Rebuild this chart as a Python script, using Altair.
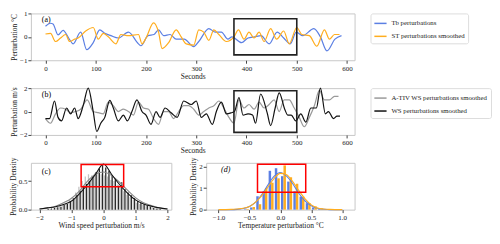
import altair as alt
import pandas as pd

FONT = "Liberation Serif"

# ---- panel (a): temperature perturbations ----
tb_t = [0,10,15,25,35,48,55,70,82,95,108,118,130,145,165,185,190,204,216,225,235,248,260,276,295,305,325,338,350,363,371,390,403,416,429,445,461,474,487,499,512,534,547,560,576,589]
tb_v = [0.45,0.58,0.55,0.08,0.28,-0.12,-0.3,0.2,-0.55,-0.25,0.3,0.15,0.05,-0.05,0.2,-0.3,-0.38,0.05,0.1,0.3,0.05,0.1,-0.1,-0.1,-0.42,-0.2,0.35,0.2,0.2,-0.1,0.0,-0.25,-0.05,0.0,0.05,-0.3,0.2,-0.05,-0.3,0.2,0.05,0.35,0.0,-0.6,-0.1,0.05]
st_t = [0,10,20,30,40,48,58,65,80,95,105,115,125,140,150,165,185,192,200,215,225,232,245,260,270,280,295,305,315,325,335,345,360,375,384,395,405,415,425,435,448,460,474,485,500,510,525,540,555,565,575,585]
st_v = [0.12,0.15,-0.2,-0.05,0.1,-0.2,-0.1,-0.05,0.25,0.4,-0.1,0.15,0.0,-0.3,0.1,0.05,0.1,-0.3,-0.05,0.6,0.2,-0.5,-0.25,0.3,0.0,-0.3,-0.35,0.3,0.2,-0.15,0.3,0.1,-0.2,0.0,0.3,-0.1,0.2,-0.05,0.2,-0.2,0.35,-0.1,0.25,-0.3,0.4,0.1,0.05,-0.4,0.3,-0.1,0.1,0.1]

# ---- panel (b): wind speed perturbations ----
ws_t = [0,8,18,25,32,42,50,58,65,75,85,95,102,110,118,128,135,145,155,163,172,182,192,200,210,220,228,238,250,262,275,290,300,310,320,332,340,350,360,370,376,385,393,403,412,418,428,441,448,457,465,476,482,489,498,508,518,528,539,547,557,563,573,580,586]
ws_v = [-0.6,-0.6,0.9,-0.5,-0.8,0.3,-0.2,0.3,-0.6,0.5,2.0,0.0,-1.7,-1.0,-0.5,0.95,0.3,-0.8,-0.3,-0.8,0.0,1.0,0.0,-0.3,-1.1,0.0,-0.5,0.3,-0.1,-0.5,0.9,0.6,0.9,-0.5,-0.2,-1.1,0.0,0.8,-0.2,-0.1,0.0,1.2,-0.3,-0.2,-0.3,-1.0,1.5,-0.1,-1.2,0.3,1.6,0.2,-0.3,-0.3,-0.8,-0.2,-0.9,0.3,0.3,2.0,-0.2,0.0,-0.6,-0.4,-0.4]
at_t = [0,10,20,30,40,50,60,70,83,95,105,115,125,135,145,155,165,175,185,195,205,215,225,235,245,255,265,275,285,295,305,315,325,335,345,355,365,375,385,395,405,415,425,435,445,455,465,475,485,495,505,515,525,535,545,555,565,575,583]
at_v = [-0.6,-1.0,-0.2,0.3,0.2,-0.1,0.0,0.2,1.0,0.0,-0.1,-0.2,0.8,0.5,0.0,0.2,0.0,-0.3,0.8,0.3,0.2,-0.6,-1.1,0.0,0.0,-0.6,0.0,0.5,0.5,0.2,-0.3,0.0,0.3,0.5,0.9,0.3,-0.5,-1.0,1.0,0.3,0.6,0.2,0.8,0.3,0.6,1.0,0.0,1.0,1.0,0.3,-0.5,-1.3,-0.5,0.5,1.8,1.0,1.0,1.3,1.3]

# ---- panel (c): wind speed histograms ----
c_bins = [round(-1.95 + 0.1 * i, 2) for i in range(40)]
c_ws = [0.0,0.0,0.01,0.02,0.03,0.04,0.05,0.08,0.1,0.14,0.2,0.26,0.33,0.4,0.45,0.5,0.58,0.66,0.72,0.78,0.74,0.68,0.6,0.55,0.42,0.48,0.36,0.3,0.25,0.2,0.15,0.12,0.09,0.07,0.05,0.03,0.02,0.01,0.0,0.0]
c_at = [0.0,0.0,0.0,0.01,0.02,0.04,0.06,0.08,0.12,0.17,0.22,0.3,0.4,0.5,0.58,0.62,0.6,0.64,0.66,0.62,0.6,0.58,0.52,0.5,0.44,0.38,0.32,0.26,0.22,0.17,0.12,0.1,0.08,0.06,0.05,0.04,0.02,0.01,0.0,0.0]
c_fit_x = [-2,-1.75,-1.5,-1.25,-1,-0.75,-0.5,-0.25,0,0.25,0.5,0.75,1,1.25,1.5,1.75,2]
c_fit_ws = [0.01,0.03,0.05,0.09,0.15,0.28,0.44,0.62,0.8,0.62,0.44,0.29,0.17,0.1,0.06,0.03,0.01]
c_fit_at = [0.01,0.03,0.06,0.12,0.2,0.33,0.5,0.62,0.66,0.6,0.48,0.34,0.21,0.12,0.07,0.03,0.01]

# ---- panel (d): temperature histograms ----
d_bins = [-0.55,-0.45,-0.35,-0.25,-0.15,-0.05,0.05,0.15,0.25,0.35,0.45,0.55,0.65]
d_tb = [0.02,0.1,0.62,0.85,1.8,1.92,1.55,1.3,0.85,0.6,0.3,0.1,0.03]
d_st = [0.03,0.12,0.25,1.0,1.25,1.45,2.05,1.5,1.2,0.6,0.3,0.15,0.04]
d_fit_x = [-1.0,-0.8,-0.7,-0.6,-0.5,-0.4,-0.3,-0.2,-0.1,0.0,0.1,0.2,0.3,0.4,0.5,0.6,0.7,0.8,1.0]
d_fit_tb = [0.0,0.0,0.01,0.05,0.15,0.35,0.7,1.15,1.55,1.72,1.55,1.2,0.75,0.4,0.18,0.06,0.02,0.0,0.0]
d_fit_st = [0.0,0.01,0.03,0.06,0.15,0.35,0.65,1.05,1.45,1.68,1.62,1.3,0.88,0.5,0.22,0.08,0.03,0.01,0.0]

# ---- highlight boxes ----
box_a = {"x1": [375], "x2": [500], "y1": [-0.77], "y2": [0.77]}
box_b = {"x1": [375], "x2": [500], "y1": [-1.78], "y2": [1.78]}
box_c = {"x1": [-0.7], "x2": [0.63], "y1": [0.4], "y2": [0.79]}
box_d = {"x1": [-0.37], "x2": [0.41], "y1": [0.8], "y2": [2.1]}

BLUE = "#5b7fe3"
ORANGE = "#ffad1f"
W_TOP, H = 325, 47


def axis(count, title, fmt):
    return alt.Axis(tickCount=count, format=fmt, title=title, labelOverlap=False,
                    labelFlush=False, labelBound=False)


def panel_label(txt, dx, dy):
    return alt.Chart(pd.DataFrame({"t": [txt]})).mark_text(
        align="left", baseline="middle", font=FONT, fontSize=8,
        fontStyle="italic" if txt == "(d)" else "normal"
    ).encode(text="t:N", x=alt.value(dx), y=alt.value(dy))


def ts_panel(s1, s2, names, colors, ydom, ytitle, box, label):
    df1 = pd.DataFrame({"t": s1[0], "v": s1[1], "s": names[0]})
    df2 = pd.DataFrame({"t": s2[0], "v": s2[1], "s": names[1]})
    xs = alt.Scale(domain=[-29, 615], nice=False, zero=False)
    ys = alt.Scale(domain=ydom, nice=False, zero=False)
    xa = axis(7, "Seconds", "d")
    ya = axis(2, ytitle, "d")
    x = alt.X("t:Q", scale=xs, axis=xa)
    y = alt.Y("v:Q", scale=ys, axis=ya)
    col = alt.Color("s:N", scale=alt.Scale(domain=names, range=colors),
                    legend=alt.Legend(title=None, orient="right", offset=16))
    l1 = alt.Chart(df1).mark_line(strokeWidth=1.2, interpolate="monotone").encode(x=x, y=y, color=col)
    l2 = alt.Chart(df2).mark_line(strokeWidth=1.2, interpolate="monotone").encode(x=x, y=y, color=col)
    bx = alt.Chart(pd.DataFrame(box)).mark_rect(fill=None, stroke="#222", strokeWidth=1.6).encode(
        x=alt.X("x1:Q", scale=xs, axis=xa), x2="x2:Q",
        y=alt.Y("y1:Q", scale=ys, axis=ya), y2="y2:Q")
    return alt.layer(l1, l2, bx, panel_label(label, 11, 7)).properties(width=W_TOP, height=H)


pa = ts_panel((tb_t, tb_v), (st_t, st_v), ["Tb perturbations", "ST perturbations smoothed"],
              [BLUE, ORANGE], [-1, 1], "Perturbation °C", box_a, "(a)")
pb = ts_panel((at_t, at_v), (ws_t, ws_v), ["A-TIV WS perturbations smoothed", "WS perturbations smoothed"],
              ["#9a9a9a", "#111111"], [-2, 2], "Perturbation m/s", box_b, "(b)")


def hist_panel(bins, h1, h2, c1, c2, fx, f1, f2, fc1, fc2, xdom, xcount, xfmt, ydom, ycount, yfmt,
               xtitle, box, label, width, lx, ly):
    half = (bins[1] - bins[0]) / 2
    hd = pd.DataFrame({"c": bins, "a": h1, "b": h2})
    hd["a0"] = hd["c"] - half * 0.8
    hd["a1"] = hd["c"]
    hd["b0"] = hd["c"]
    hd["b1"] = hd["c"] + half * 0.8
    xs = alt.Scale(domain=xdom, nice=False, zero=False)
    ys = alt.Scale(domain=ydom, nice=False)
    xa = axis(xcount, xtitle, xfmt)
    ya = axis(ycount, "Probability Density", yfmt)
    bars1 = alt.Chart(hd).mark_rect(color=c1).encode(
        x=alt.X("a0:Q", scale=xs, axis=xa), x2="a1:Q",
        y=alt.Y("a:Q", scale=ys, axis=ya), y2=alt.datum(0))
    bars2 = alt.Chart(hd).mark_rect(color=c2).encode(
        x=alt.X("b0:Q", scale=xs, axis=xa), x2="b1:Q",
        y=alt.Y("b:Q", scale=ys, axis=ya), y2=alt.datum(0))
    fd = pd.DataFrame({"x": fx, "f1": f1, "f2": f2})
    line1 = alt.Chart(fd).mark_line(color=fc1, strokeWidth=1.1, interpolate="monotone").encode(
        x=alt.X("x:Q", scale=xs, axis=xa), y=alt.Y("f1:Q", scale=ys, axis=ya))
    line2 = alt.Chart(fd).mark_line(color=fc2, strokeWidth=1.1, interpolate="monotone").encode(
        x=alt.X("x:Q", scale=xs, axis=xa), y=alt.Y("f2:Q", scale=ys, axis=ya))
    bx = alt.Chart(pd.DataFrame(box)).mark_rect(fill=None, stroke="red", strokeWidth=1.5).encode(
        x=alt.X("x1:Q", scale=xs, axis=xa), x2="x2:Q",
        y=alt.Y("y1:Q", scale=ys, axis=ya), y2="y2:Q")
    return alt.layer(bars1, bars2, line1, line2, bx, panel_label(label, lx, ly)).properties(
        width=width, height=H)


pc = hist_panel(c_bins, c_at, c_ws, "#c4c4c4", "#2a2a2a", c_fit_x, c_fit_at, c_fit_ws, "#8a8a8a", "#111111",
                [-2.27, 2.12], 5, "d", [0, 0.82], 2, ".1f",
                "Wind speed perturbation m/s", box_c, "(c)", 141, 11, 9)
pd_ = hist_panel(d_bins, d_tb, d_st, BLUE, ORANGE, d_fit_x, d_fit_tb, d_fit_st, BLUE, ORANGE,
                 [-1.2, 1.2], 5, ".1f", [0, 2.17], 2, "d",
                 "Temperature perturbation °C", box_d, "(d)", 149, 15, 7)

bottom = alt.hconcat(pc, pd_, spacing=35, bounds="flush")
chart = alt.vconcat(pa, pb, bottom, spacing=28, bounds="flush").resolve_scale(
    color="independent", x="independent", y="independent"
).properties(padding=0).configure_view(stroke="#c8c8c8", strokeWidth=1).configure_axis(
    grid=False, domain=False, tickColor="#444", tickSize=3, labelFont=FONT, labelFontSize=7,
    labelColor="#222", titleFont=FONT, titleFontSize=7.5, titleFontWeight="normal", titleColor="#222",
    labelPadding=1, titlePadding=1
).configure_legend(
    strokeColor="#dddddd", padding=3, cornerRadius=2, labelFont=FONT, labelFontSize=6.8,
    labelColor="#222", symbolType="stroke", symbolStrokeWidth=1.5, symbolSize=150, rowPadding=2,
    fillColor="white", labelOffset=4
)

chart.save("out.html", embed_options={"renderer": "svg", "actions": False})
